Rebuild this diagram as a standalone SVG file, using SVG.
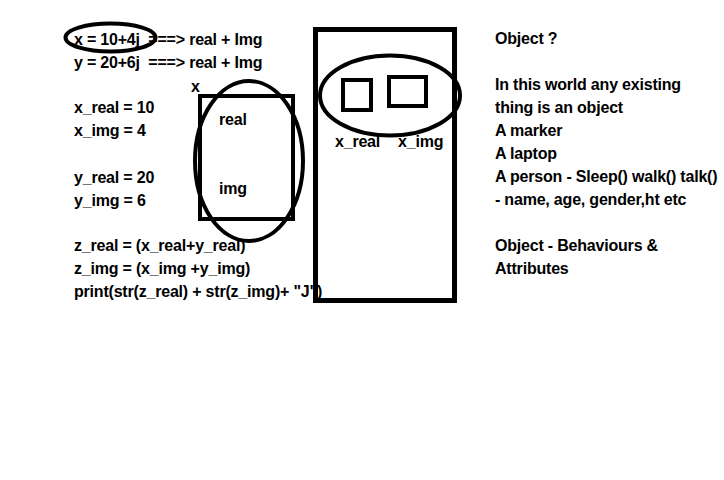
<svg xmlns="http://www.w3.org/2000/svg" width="724" height="480" viewBox="0 0 724 480">
<style>
text{font-family:"Liberation Sans",Arial,sans-serif;font-weight:bold;font-size:16px;fill:#000;white-space:pre;letter-spacing:-0.2px}
.s{fill:none;stroke:#000;stroke-width:4}
.b{fill:none;stroke:#000;stroke-width:5}
</style>
<rect width="724" height="480" fill="#fff"/>
<g id="code">
<text x="74" y="45" xml:space="preserve">x = 10+4j  ===&gt; real + Img</text>
<text x="74" y="68" xml:space="preserve">y = 20+6j  ===&gt; real + Img</text>
<text x="74" y="113">x_real = 10</text>
<text x="74" y="136">x_img = 4</text>
<text x="74" y="183">y_real = 20</text>
<text x="74" y="206">y_img = 6</text>
<text x="74" y="251">z_real = (x_real+y_real)</text>
<text x="74" y="274">z_img = (x_img +y_img)</text>
<text x="74" y="297">print(str(z_real) + str(z_img)+ "J")</text>
</g>
<g id="notes">
<text x="495" y="44">Object ?</text>
<text x="495" y="90">In this world any existing</text>
<text x="495" y="113">thing is an object</text>
<text x="495" y="136">A marker</text>
<text x="495" y="159">A laptop</text>
<text x="495" y="182">A person - Sleep() walk() talk()</text>
<text x="495" y="205">- name, age, gender,ht etc</text>
<text x="495" y="251">Object - Behaviours &amp;</text>
<text x="495" y="274">Attributes</text>
</g>
<g id="x-circle">
<ellipse class="s" cx="110.5" cy="37.5" rx="45" ry="14"/>
</g>
<g id="x-box">
<text x="191" y="92">x</text>
<text x="219" y="125">real</text>
<text x="219" y="194">img</text>
<rect class="s" x="200" y="96" width="93" height="123"/>
<ellipse class="s" cx="249" cy="161" rx="54" ry="80"/>
</g>
<g id="object-box">
<text x="335" y="147">x_real</text>
<text x="398" y="147">x_img</text>
<rect class="b" x="315.5" y="29.5" width="139" height="271"/>
<rect class="s" x="343" y="80" width="28" height="30"/>
<rect class="s" x="389" y="77" width="37" height="29"/>
<ellipse class="s" cx="390" cy="95.5" rx="70" ry="40"/>
</g>
<g id="connectors"></g>
</svg>
